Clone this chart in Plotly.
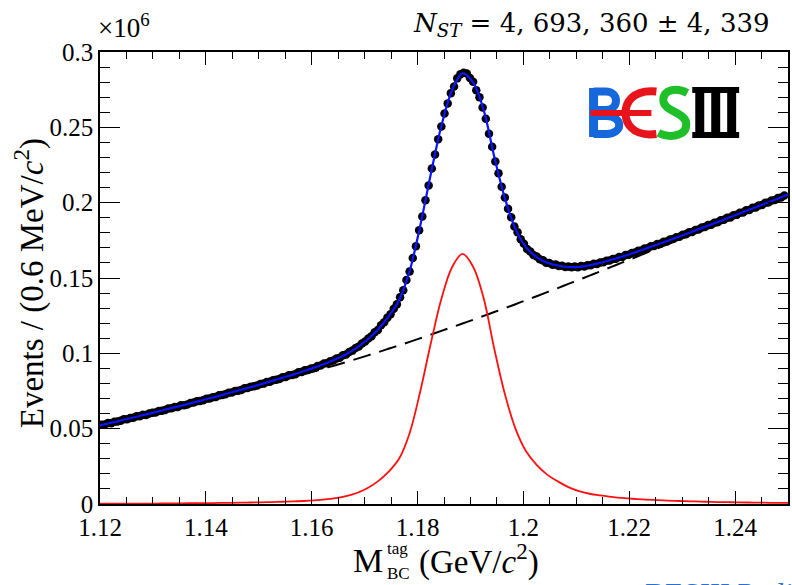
import numpy as np
import plotly.graph_objects as go

# ---------------- data (values in units of 10^6 events per 0.6 MeV/c^2) ----------------
bin_start = 1.12
bin_width = 0.0006
events = [
    0.0526, 0.0527, 0.0537, 0.0536, 0.0546, 0.0548, 0.0553, 0.0562, 0.0563, 0.0571,
    0.0572, 0.0582, 0.0583, 0.0592, 0.0591, 0.0601, 0.0606, 0.0607, 0.0618, 0.0619,
    0.0624, 0.0634, 0.0635, 0.0643, 0.0644, 0.0655, 0.0656, 0.0661, 0.0671, 0.0673,
    0.0682, 0.0683, 0.0688, 0.0699, 0.0700, 0.0709, 0.0711, 0.0721, 0.0723, 0.0728,
    0.0739, 0.0740, 0.0750, 0.0751, 0.0757, 0.0768, 0.0770, 0.0779, 0.0781, 0.0786,
    0.0797, 0.0799, 0.0809, 0.0811, 0.0822, 0.0824, 0.0830, 0.0841, 0.0843, 0.0854,
    0.0856, 0.0862, 0.0874, 0.0876, 0.0887, 0.0889, 0.0900, 0.0903, 0.0916, 0.0919,
    0.0932, 0.0935, 0.0948, 0.0952, 0.0966, 0.0971, 0.0987, 0.0992, 0.1009, 0.1018,
    0.1035, 0.1045, 0.1066, 0.1078, 0.1099, 0.1114, 0.1140, 0.1155, 0.1186, 0.1206,
    0.1237, 0.1260, 0.1296, 0.1325, 0.1373, 0.1419, 0.1486, 0.1543, 0.1632, 0.1711,
    0.1817, 0.1908, 0.2016, 0.2114, 0.2227, 0.2319, 0.2421, 0.2505, 0.2592, 0.2658,
    0.2727, 0.2771, 0.2825, 0.2853, 0.2862, 0.2857, 0.2827, 0.2802, 0.2746, 0.2699,
    0.2631, 0.2557, 0.2458, 0.2371, 0.2273, 0.2195, 0.2106, 0.2034, 0.1960, 0.1903,
    0.1842, 0.1803, 0.1757, 0.1728, 0.1693, 0.1676, 0.1653, 0.1642, 0.1624, 0.1617,
    0.1602, 0.1599, 0.1588, 0.1589, 0.1580, 0.1582, 0.1573, 0.1576, 0.1571, 0.1576,
    0.1571, 0.1579, 0.1577, 0.1584, 0.1584, 0.1594, 0.1593, 0.1603, 0.1604, 0.1615,
    0.1616, 0.1626, 0.1628, 0.1639, 0.1640, 0.1652, 0.1654, 0.1666, 0.1669, 0.1681,
    0.1683, 0.1695, 0.1698, 0.1710, 0.1713, 0.1725, 0.1728, 0.1740, 0.1743, 0.1755,
    0.1759, 0.1771, 0.1774, 0.1787, 0.1790, 0.1803, 0.1806, 0.1819, 0.1822, 0.1835,
    0.1838, 0.1851, 0.1854, 0.1867, 0.1870, 0.1883, 0.1886, 0.1900, 0.1902, 0.1916,
    0.1919, 0.1933, 0.1935, 0.1949, 0.1952, 0.1966, 0.1968, 0.1982, 0.1985, 0.1999,
    0.2001, 0.2015, 0.2018, 0.2031, 0.2034, 0.2048,
]

# fit components sampled on a 2 MeV grid
fit_start = 1.1185
fit_step = 0.002
signal = [
    0.0002, 0.0002, 0.0002, 0.0003, 0.0003, 0.0003, 0.0003, 0.0004, 0.0004, 0.0005,
    0.0005, 0.0006, 0.0007, 0.0008, 0.0009, 0.0010, 0.0011, 0.0013, 0.0015, 0.0017,
    0.0020, 0.0024, 0.0030, 0.0039, 0.0052, 0.0073, 0.0105, 0.0150, 0.0213, 0.0300,
    0.0470, 0.0745, 0.1065, 0.1360, 0.1570, 0.1660, 0.1575, 0.1365, 0.1030, 0.0730,
    0.0500, 0.0350, 0.0260, 0.0195, 0.0150, 0.0112, 0.0085, 0.0068, 0.0057, 0.0048,
    0.0040, 0.0035, 0.0031, 0.0027, 0.0024, 0.0021, 0.0019, 0.0017, 0.0015, 0.0013,
    0.0012, 0.0011, 0.0010, 0.0009, 0.0008, 0.0007, 0.0007,
]
background = [
    0.0508, 0.0524, 0.0540, 0.0556, 0.0573, 0.0590, 0.0607, 0.0624, 0.0641, 0.0658,
    0.0676, 0.0694, 0.0711, 0.0730, 0.0748, 0.0766, 0.0785, 0.0804, 0.0823, 0.0842,
    0.0861, 0.0881, 0.0901, 0.0921, 0.0942, 0.0963, 0.0985, 0.1007, 0.1030, 0.1053,
    0.1076, 0.1100, 0.1124, 0.1149, 0.1173, 0.1198, 0.1223, 0.1249, 0.1274, 0.1300,
    0.1326, 0.1353, 0.1379, 0.1406, 0.1433, 0.1461, 0.1488, 0.1516, 0.1543, 0.1572,
    0.1600, 0.1628, 0.1657, 0.1685, 0.1713, 0.1742, 0.1770, 0.1799, 0.1827, 0.1855,
    0.1884, 0.1912, 0.1941, 0.1969, 0.1997, 0.2026, 0.2054,
]

x_ticks_dtick = 0.02
y_ticks_dtick = 0.05

x_data = bin_start + bin_width * (np.arange(len(events)) + 0.5)
x_fit = fit_start + fit_step * np.arange(len(signal))
total = np.array(signal) + np.array(background)

# ---------------- layout geometry ----------------
W, H = 792, 585
L, R, T, B = 100, 2, 52, 81


def px(x):
    return (x - L) / (W - L - R)


def py(y):
    return (H - B - y) / (H - T - B)


def path(points_cmds):
    out = []
    for item in points_cmds:
        if isinstance(item, str):
            out.append(item)
        else:
            out.append(f"{px(item[0]):.5f},{py(item[1]):.5f}")
    return " ".join(out)


fig = go.Figure()

fig.add_trace(go.Scatter(
    x=x_fit, y=background, mode="lines", line_shape="spline",
    line=dict(color="black", width=2, dash="18px,9px"), hoverinfo="skip", showlegend=False))
fig.add_trace(go.Scatter(
    x=x_data, y=events, mode="markers",
    marker=dict(color="black", size=8.5), showlegend=False))
fig.add_trace(go.Scatter(
    x=x_fit, y=total, mode="lines", line_shape="spline",
    line=dict(color="#0a14ff", width=2.2), showlegend=False))
fig.add_trace(go.Scatter(
    x=x_fit, y=signal, mode="lines", line_shape="spline",
    line=dict(color="#ff1010", width=1.8), showlegend=False))

serif = "Liberation Serif"
axis_common = dict(
    ticks="inside", tickwidth=1.4, tickcolor="black", showline=True, linewidth=1.5,
    linecolor="black", mirror="allticks", showgrid=False, zeroline=False,
    tickfont=dict(family=serif, size=25, color="black"),
)

fig.update_xaxes(range=[1.12, 1.25], tick0=1.12, dtick=x_ticks_dtick, ticklen=13,
                 minor=dict(dtick=0.005, tick0=1.12, ticklen=7, ticks="inside",
                            tickwidth=1.4, tickcolor="black"),
                 **axis_common)
fig.update_yaxes(range=[0, 0.3], tick0=0, dtick=y_ticks_dtick, ticklen=20,
                 minor=dict(dtick=0.01, tick0=0, ticklen=10, ticks="inside",
                            tickwidth=1.4, tickcolor="black"),
                 **axis_common)

ann = []
ann.append(dict(text="×10<sup>6</sup>", x=px(96), y=py(26), xanchor="left", yanchor="middle",
                font=dict(family=serif, size=27, color="black")))
ann.append(dict(text="<i>N</i><sub><i>ST</i></sub> = 4, 693, 360 ± 4, 339",
                x=px(774), y=py(25), xanchor="right", yanchor="middle",
                font=dict(family="DejaVu Serif", size=26, color="black")))
ann.append(dict(text="Events / (0.6 MeV/<i>c</i><sup>2</sup>)", textangle=-90,
                x=px(29), y=py(283), xanchor="center", yanchor="middle",
                font=dict(family=serif, size=33, color="black")))
ann.append(dict(text="M", x=px(369), y=py(560), xanchor="center", yanchor="middle",
                font=dict(family=serif, size=34, color="black")))
ann.append(dict(text="tag", x=px(386), y=py(548), xanchor="left", yanchor="middle",
                font=dict(family=serif, size=17, color="black")))
ann.append(dict(text="BC", x=px(386), y=py(573), xanchor="left", yanchor="middle",
                font=dict(family=serif, size=17, color="black")))
ann.append(dict(text="(GeV/<i>c</i><sup>2</sup>)", x=px(418), y=py(559), xanchor="left",
                yanchor="middle", font=dict(family=serif, size=33, color="black")))
ann.append(dict(text="BESIII Preliminary", x=px(645), y=py(574), xanchor="left",
                yanchor="top", font=dict(family=serif, size=30, color="#2a6fd0")))
for a in ann:
    a.update(xref="paper", yref="paper", showarrow=False)

# BESIII logo drawn as shapes
blue, red, green = "#1666dc", "#e8141c", "#1fbf2a"
shapes = []
# B
shapes.append(dict(type="path", path=path(["M", (595, 88), "L", (595, 137)]),
                   line=dict(color=blue, width=9)))
shapes.append(dict(type="path",
                   path=path(["M", (595, 91.5), "L", (607, 91.5), "C", (621, 91.5), (621, 110),
                              (607, 110), "L", (595, 110)]),
                   line=dict(color=blue, width=8)))
shapes.append(dict(type="path",
                   path=path(["M", (595, 116), "L", (608, 116), "C", (625, 116), (625, 134),
                              (608, 134), "L", (595, 134)]),
                   line=dict(color=blue, width=8)))
# E (epsilon-like) with long bar
shapes.append(dict(type="path",
                   path=path(["M", (658, 91.5), "C", (633, 89), (627, 104), (627, 113),
                              "C", (627, 122), (633, 137), (658, 134)]),
                   line=dict(color=red, width=8)))
shapes.append(dict(type="path", path=path(["M", (592, 113), "L", (653, 113)]),
                   line=dict(color=red, width=6)))
# S
shapes.append(dict(type="path",
                   path=path(["M", (689, 93), "C", (680, 88), (664, 88), (665, 101),
                              "C", (666, 112), (688, 112), (688, 124),
                              "C", (688, 137), (670, 138), (660, 133)]),
                   line=dict(color=green, width=8)))
# III
shapes.append(dict(type="rect", x0=px(694), x1=px(741), y0=py(93), y1=py(87),
                   fillcolor="black", line=dict(width=0)))
shapes.append(dict(type="rect", x0=px(694), x1=px(741), y0=py(138), y1=py(132),
                   fillcolor="black", line=dict(width=0)))
for x0 in (697, 713, 729):
    shapes.append(dict(type="rect", x0=px(x0), x1=px(x0 + 9), y0=py(138), y1=py(87),
                       fillcolor="black", line=dict(width=0)))
for s in shapes:
    s.update(xref="paper", yref="paper")

fig.update_layout(
    width=W, height=H, margin=dict(l=L, r=R, t=T, b=B),
    paper_bgcolor="white", plot_bgcolor="white",
    annotations=ann, shapes=shapes, showlegend=False,
)

fig.write_html("out.html")
